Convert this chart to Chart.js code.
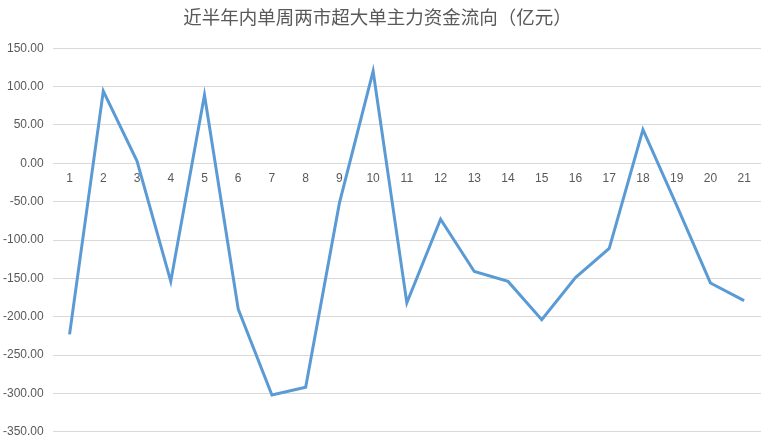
<!DOCTYPE html>
<html>
<head>
<meta charset="utf-8">
<script src="https://cdn.jsdelivr.net/npm/chart.js@4/dist/chart.umd.min.js"></script>
<style>
  html, body { margin: 0; padding: 0; background: #fff; overflow: hidden; }
  #wrap { width: 773px; height: 448px; position: relative; }
</style>
</head>
<body>
<div id="wrap"><canvas id="flowChart"></canvas></div>
<script>
// weekly super-large-order main fund flow, 100 million yuan
const weeks = ['1', '2', '3', '4', '5', '6', '7', '8', '9', '10', '11',
    '12', '13', '14', '15', '16', '17', '18', '19', '20', '21'];
const flowValues = [-223, 94, 3, -154, 89, -190, -302, -292, -52, 120, -182,
    -73, -141, -154, -204, -149, -111, 44, -55, -156, -179];
const yTicks = { min: -350, max: 150, step: 50 };

const chartTitle = '近半年内单周两市超大单主力资金流向（亿元）';
const textColor = '#595959';
const gridColor = '#d9d9d9';

const ctx = document.getElementById('flowChart').getContext('2d');

new Chart(ctx, {
    type: 'line',
    data: {
        labels: weeks,
        datasets: [{
            data: flowValues,
            borderColor: '#5b9bd5',
            borderWidth: 3,
            pointRadius: 0,
            tension: 0,
            fill: false
        }]
    },
    options: {
        responsive: true,
        maintainAspectRatio: false,
        animation: false,
        layout: {
            padding: { left: -6, right: 12, top: 4, bottom: 0 }
        },
        plugins: {
            legend: { display: false },
            tooltip: { enabled: false },
            title: {
                display: true,
                text: chartTitle,
                color: textColor,
                font: { family: '"Noto Sans CJK SC", sans-serif', size: 18.5, weight: 'normal' },
                padding: { top: 2, bottom: 20 }
            }
        },
        scales: {
            x: {
                position: { y: 0 },
                offset: true,
                grid: { display: false, drawTicks: false },
                border: { display: false },
                ticks: {
                    color: textColor,
                    padding: 8,
                    maxRotation: 0,
                    autoSkip: false,
                    font: { family: '"Liberation Sans", sans-serif', size: 12 }
                }
            },
            y: {
                min: yTicks.min,
                max: yTicks.max,
                grid: { color: gridColor, lineWidth: 1, drawTicks: false },
                border: { display: false },
                ticks: {
                    stepSize: yTicks.step,
                    color: textColor,
                    padding: 9,
                    font: { family: '"Liberation Sans", sans-serif', size: 12 },
                    callback: function(value) {
                        return value.toFixed(2);
                    }
                }
            }
        }
    }
});
</script>
</body>
</html>
